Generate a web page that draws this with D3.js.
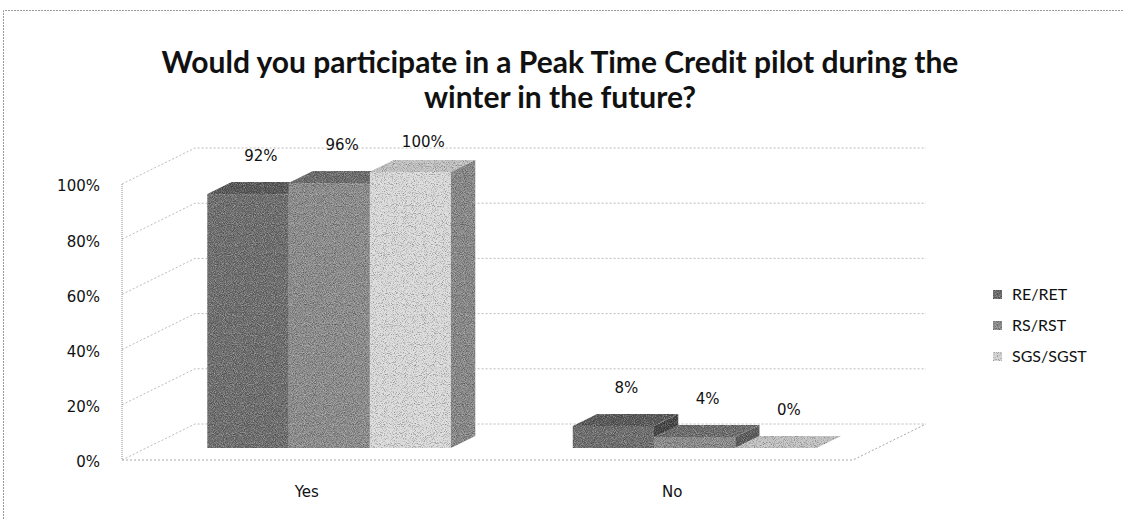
<!DOCTYPE html>
<html>
<head>
<meta charset="utf-8">
<script src="https://cdn.jsdelivr.net/npm/d3@7"></script>
<style>
  html, body { margin: 0; padding: 0; background: #fff; }
  svg { display: block; }
</style>
</head>
<body>
<svg id="chart" width="1123" height="519"></svg>
<script>
// Survey answers, share of respondents per rate class
const categories = ["Yes", "No"];
const seriesNames = ["RE/RET", "RS/RST", "SGS/SGST"];
const reRet  = [0.92, 0.08];
const rsRst  = [0.96, 0.04];
const sgsSgst = [1.00, 0.00];
const tickValues = [0, 0.2, 0.4, 0.6, 0.8, 1.0];
const titleLines = ["Would you participate in a Peak Time Credit pilot during the", "winter in the future?"];

const seriesValues = [reRet, rsRst, sgsSgst];

// face shades per series: front, top, side
const shades = [
  { front: "#6e6e6e", top: "#585858", side: "#444444", key: "#6a6a6a" },
  { front: "#8c8c8c", top: "#6c6c6c", side: "#5c5c5c", key: "#8a8a8a" },
  { front: "#dadada", top: "#c2c2c2", side: "#888888", key: "#d2d2d2" }
];

const svg = d3.select("#chart");
const W = 1123, H = 519;

// printed-halftone texture for the solid faces
const defs = svg.append("defs");
const grain = defs.append("filter").attr("id", "grain")
  .attr("x", 0).attr("y", 0).attr("width", 1).attr("height", 1)
  .attr("color-interpolation-filters", "sRGB");
grain.append("feTurbulence").attr("type", "fractalNoise").attr("baseFrequency", 1.1)
  .attr("numOctaves", 1).attr("seed", 7).attr("result", "noise");
grain.append("feColorMatrix").attr("in", "noise").attr("type", "matrix")
  .attr("values", "0.6 0 0 0 0.2  0.6 0 0 0 0.2  0.6 0 0 0 0.2  0 0 0 0 1")
  .attr("result", "gray");
grain.append("feBlend").attr("in", "SourceGraphic").attr("in2", "gray").attr("mode", "overlay").attr("result", "mix");
grain.append("feComposite").attr("in", "mix").attr("in2", "SourceGraphic").attr("operator", "in");

// outer chart-area frame (dotted)
svg.append("path")
  .attr("d", `M3.5,${H} V10.5 H${W}`)
  .attr("fill", "none").attr("stroke", "#9a9a9a")
  .attr("stroke-width", 1).attr("stroke-dasharray", "2,1");

// 3-D box geometry: front plane and depth shift
const plot = { left: 122, right: 853, bottom: 460, top: 184 };
const depth = { dx: 73, dy: -36 };
const shift = d => [depth.dx * d, depth.dy * d];

const x = d3.scaleBand().domain(categories).range([plot.left, plot.right]).paddingInner(0).paddingOuter(0);
const y = d3.scaleLinear().domain([0, 1]).range([plot.bottom, plot.top]);

// inner band for bars within a category (gap width 50%)
const groupW = x.bandwidth() / 1.5;
const xs = d3.scaleBand().domain(d3.range(seriesNames.length)).range([0, groupW]).padding(0);

const grid = svg.append("g").attr("fill", "none");
const [bdx, bdy] = shift(1);

// back-wall and side-wall gridlines
tickValues.forEach(v => {
  const yf = y(v);
  grid.append("path")
    .attr("d", `M${plot.left},${yf} L${plot.left + bdx},${yf + bdy} L${plot.right + bdx},${yf + bdy}`)
    .attr("stroke", "#bcbcbc").attr("stroke-width", 1).attr("stroke-dasharray", "2,2");
});
// floor outline
grid.append("path")
  .attr("d", `M${plot.left},${plot.bottom} L${plot.right},${plot.bottom} L${plot.right + bdx},${plot.bottom + bdy}`)
  .attr("stroke", "#a8a8a8").attr("stroke-width", 1).attr("stroke-dasharray", "2,2");
// side wall front edge (value axis line)
grid.append("path")
  .attr("d", `M${plot.left},${y(1)} L${plot.left},${plot.bottom}`)
  .attr("stroke", "#8c8c8c").attr("stroke-width", 1).attr("stroke-dasharray", "1,1");

// value axis labels
const yAxis = d3.axisLeft(y).tickValues(tickValues).tickFormat(d3.format(".0%")).tickSize(0).tickPadding(0);
const yg = svg.append("g").attr("transform", `translate(100,2)`).call(yAxis);
yg.select(".domain").remove();
yg.selectAll("text").attr("font-family", "DejaVu Sans").attr("font-size", 15).attr("fill", "#111");

// category labels along the floor front edge
const xAxis = d3.axisBottom(x).tickSize(0).tickPadding(0);
const xg = svg.append("g").attr("transform", `translate(2,${plot.bottom + 26})`).call(xAxis);
xg.select(".domain").remove();
xg.selectAll("text").attr("font-family", "DejaVu Sans").attr("font-size", 15).attr("fill", "#111");

// bars sit in the middle third of the depth
const d0 = 1 / 3, d1 = 2 / 3;
const [fx, fy] = shift(d0);
const [bx, by] = [depth.dx * (d1 - d0), depth.dy * (d1 - d0)];

const bars = [];
categories.forEach((c, ci) => {
  seriesValues.forEach((vals, si) => {
    const left = x(c) + (x.bandwidth() - groupW) / 2 + xs(si) + fx;
    bars.push({ c, si, v: vals[ci], left, right: left + xs.bandwidth() });
  });
});

const barG = svg.append("g");
bars.forEach(b => {
  const yb = y(0) + fy, yt = y(b.v) + fy;
  const g = barG.append("g").attr("filter", "url(#grain)");
  const s = shades[b.si];
  // right side
  g.append("path")
    .attr("d", `M${b.right},${yb} L${b.right + bx},${yb + by} L${b.right + bx},${yt + by} L${b.right},${yt} Z`)
    .attr("fill", s.side);
  // top
  g.append("path")
    .attr("d", `M${b.left},${yt} L${b.left + bx},${yt + by} L${b.right + bx},${yt + by} L${b.right},${yt} Z`)
    .attr("fill", s.top);
  // front
  g.append("rect")
    .attr("x", b.left).attr("y", yt)
    .attr("width", b.right - b.left).attr("height", Math.max(0, yb - yt))
    .attr("fill", s.front);
});

// data labels above each bar, kept inside the plot area
const fmt = d3.format(".0%");
const labelG = svg.append("g");
bars.forEach(b => {
  const cy = Math.max(y(b.v) + fy - 38, y(1) + bdy - 6);
  labelG.append("text")
    .attr("x", (b.left + b.right) / 2 + 13)
    .attr("y", cy)
    .attr("dy", "0.35em")
    .attr("text-anchor", "middle")
    .attr("font-family", "DejaVu Sans").attr("font-size", 15).attr("fill", "#111")
    .text(fmt(b.v));
});

// title
const title = svg.append("text")
  .attr("text-anchor", "middle")
  .attr("font-family", "Lato").attr("font-weight", 700).attr("font-size", 30)
  .attr("fill", "#111");
titleLines.forEach((t, i) => {
  title.append("tspan").attr("x", 560).attr("y", 73 + i * 35).text(t);
});

// legend
const legend = svg.append("g").attr("transform", "translate(993,294)");
seriesNames.forEach((n, i) => {
  const g = legend.append("g").attr("transform", `translate(0,${i * 31})`);
  g.append("rect").attr("x", 0).attr("y", -4).attr("width", 9).attr("height", 9)
    .attr("fill", shades[i].key).attr("filter", "url(#grain)");
  g.append("text").attr("x", 19).attr("y", 0).attr("dy", "0.35em")
    .attr("font-family", "Lato").attr("font-size", 16).attr("fill", "#111").text(n);
});
</script>
</body>
</html>
